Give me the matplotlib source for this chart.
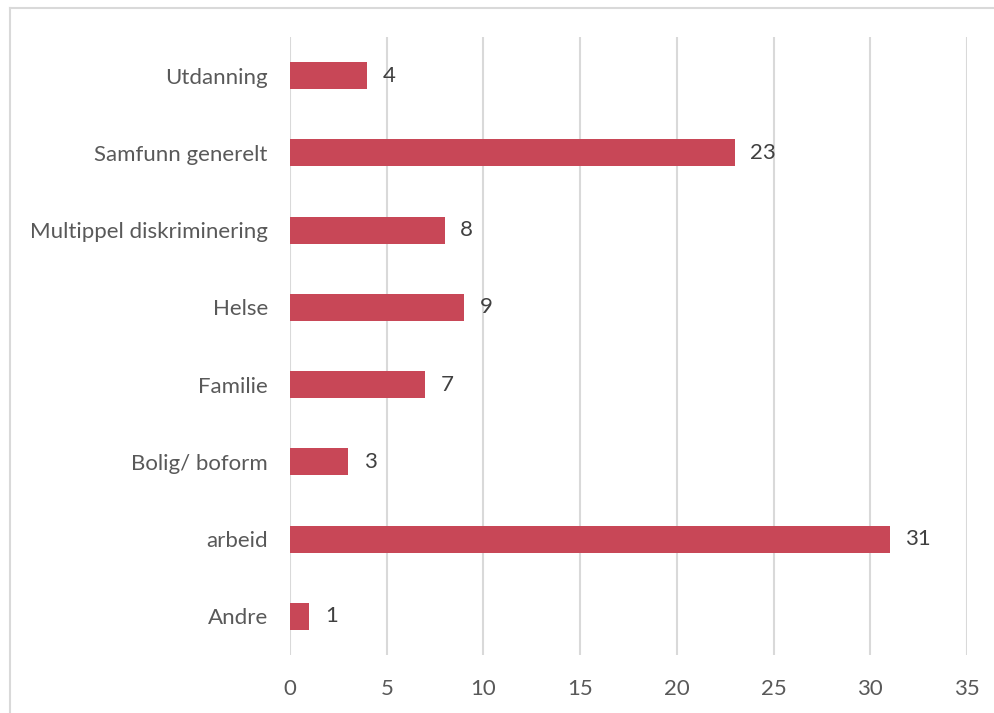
import matplotlib
matplotlib.use("Agg")
import matplotlib.pyplot as plt
from matplotlib.lines import Line2D

categories = ["Andre", "arbeid", "Bolig/ boform", "Familie", "Helse",
              "Multippel diskriminering", "Samfunn generelt", "Utdanning"]
values = [1, 31, 3, 7, 9, 8, 23, 4]
x_ticks = [0, 5, 10, 15, 20, 25, 30, 35]

plt.rcParams["font.family"] = ["Lato", "DejaVu Sans"]

bar_color = "#C84757"
grid_color = "#D9D9D9"
text_color = "#595959"

fig = plt.figure(figsize=(9.95, 7.13), dpi=100)
ax = fig.add_axes([0.2915, 0.0814, 0.6804, 0.8667])

y = range(len(categories))
ax.barh(y, values, height=0.35, color=bar_color, zorder=3)
for yi, v in zip(y, values):
    ax.text(v + 0.8, yi, str(v), va="center", ha="left",
            fontsize=16, color="#404040")

ax.set_xlim(0, 35)
ax.set_ylim(-0.5, len(categories) - 0.5)
ax.set_xticks(x_ticks)
ax.set_xticklabels([str(t) for t in x_ticks])
ax.set_yticks(list(y))
ax.set_yticklabels(categories)
ax.tick_params(axis="both", length=0, labelsize=16, labelcolor=text_color)
ax.tick_params(axis="x", pad=17)
ax.tick_params(axis="y", pad=16)
ax.xaxis.grid(True, color=grid_color, linewidth=1.5, zorder=0)
for s in ax.spines.values():
    s.set_visible(False)

# chart frame along the top and left edges
fig.add_artist(Line2D([0.0101, 0.999], [0.9888, 0.9888], color=grid_color,
                      linewidth=1.5, transform=fig.transFigure))
fig.add_artist(Line2D([0.0101, 0.0101], [0.0, 0.9888], color=grid_color,
                      linewidth=1.5, transform=fig.transFigure))

fig.savefig("out.png", dpi=100)
